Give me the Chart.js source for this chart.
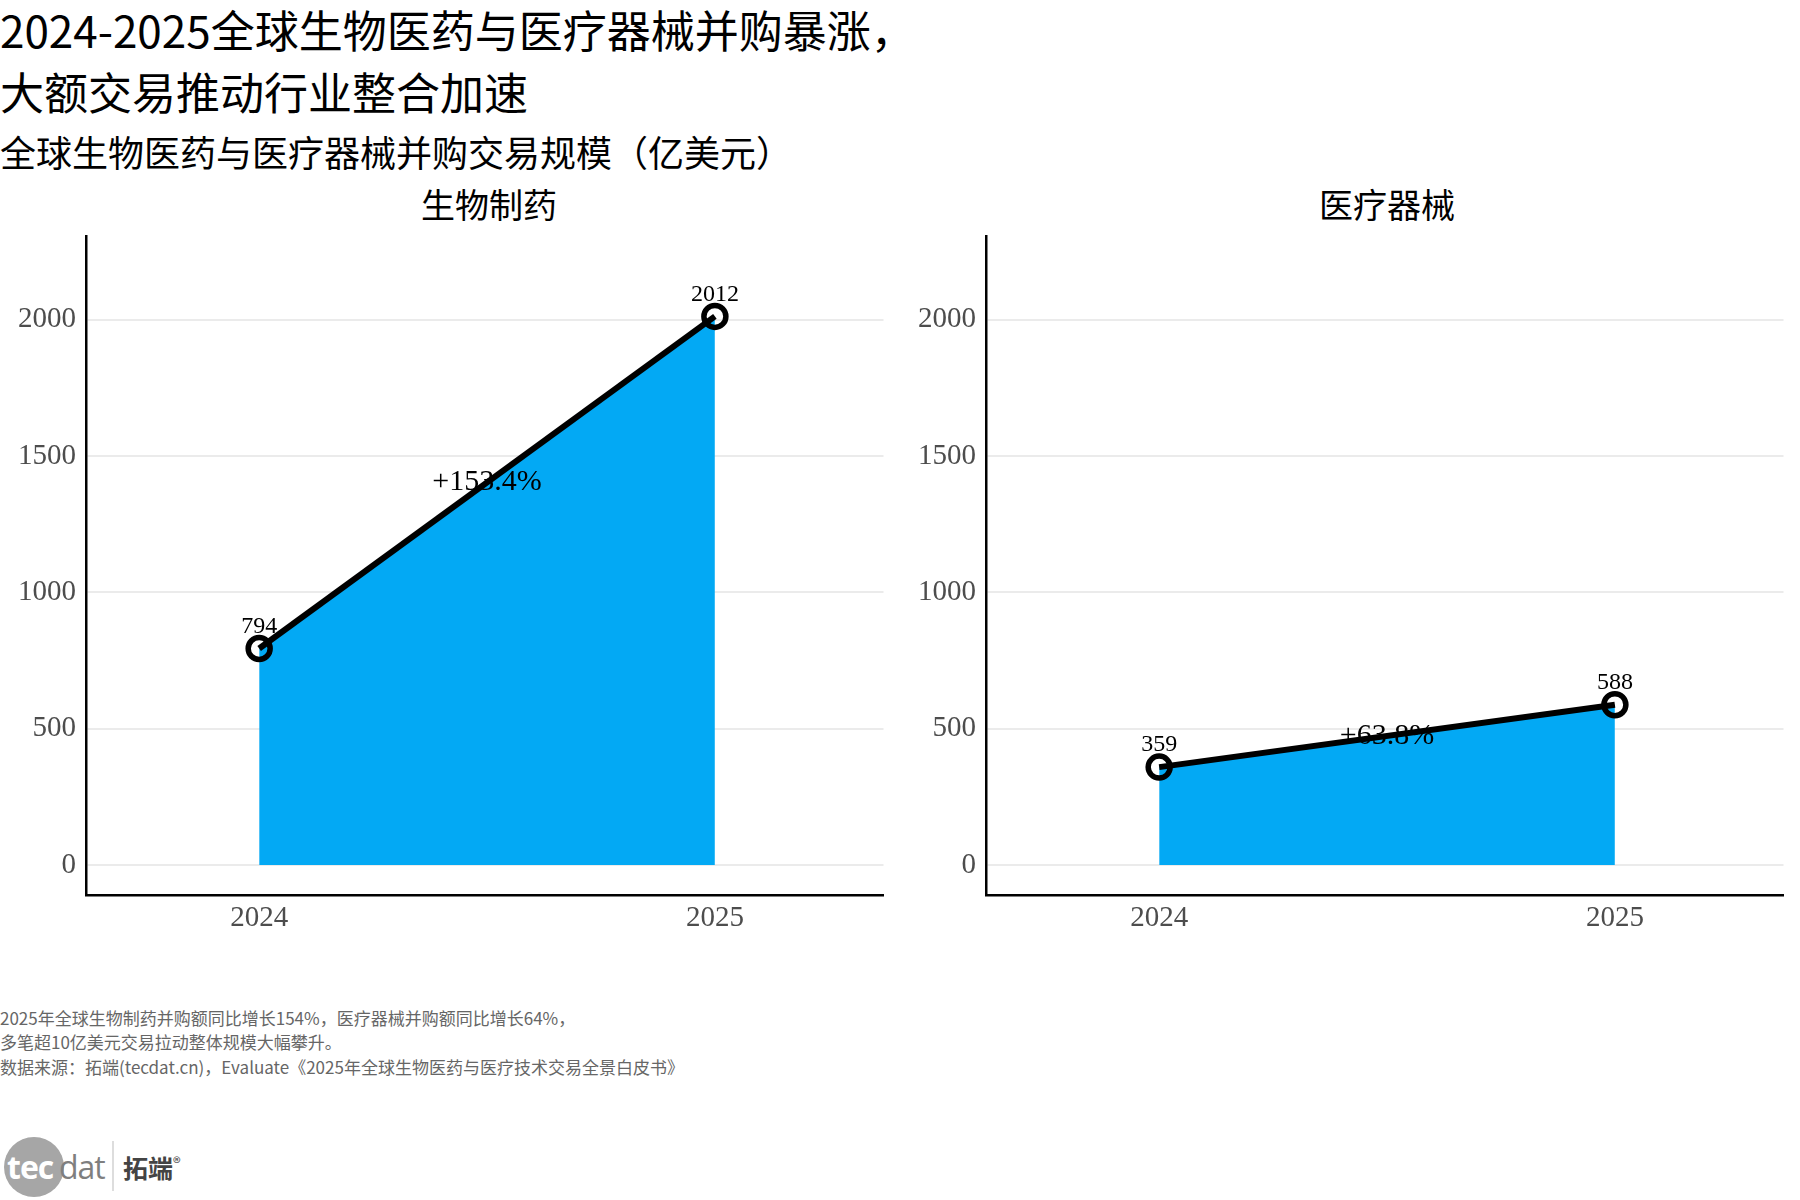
<!doctype html>
<html lang="zh">
<head>
<meta charset="utf-8">
<title>2024-2025全球生物医药与医疗器械并购</title>
<script src="https://cdn.jsdelivr.net/npm/chart.js@4.4.1/dist/chart.umd.min.js"></script>
<style>
    body { margin: 0; background: #fff; width: 1800px; height: 1200px; position: relative; overflow: hidden; font-family: "Noto Sans CJK SC", sans-serif; }
    .txt { position: absolute; left: 0; white-space: nowrap; color: #000; }
    .t1 { font-size: 44px; line-height: 44px; font-weight: 400; }
    .t2 { font-size: 36px; line-height: 36px; }
    .panel-title { position: absolute; font-size: 34px; line-height: 34px; text-align: center; width: 400px; }
    .box { position: absolute; top: 220px; width: 900px; height: 735px; }
    .note { position: absolute; left: 0; font-size: 17px; line-height: 17px; color: #666; white-space: nowrap; }
    .logo { position: absolute; left: 4px; top: 1137px; height: 62px; }
    .circle { position: absolute; left: 0; top: 0; width: 60px; height: 60px; border-radius: 50%; background: #a6a6a6; }
    .tec { position: absolute; left: 3px; top: 8px; font: bold 32px "Open Sans", sans-serif; color: #fff; letter-spacing: -1px; }
    .dat { position: absolute; left: 55px; top: 8px; font: 32px "Open Sans", sans-serif; color: #7f7f7f; letter-spacing: -1px; }
    .sep { position: absolute; left: 108px; top: 4px; width: 2px; height: 50px; background: #ddd; }
    .brand { position: absolute; left: 119px; top: 12px; font: bold 25px "Noto Sans CJK SC"; color: #444; white-space: nowrap; }
</style>
</head>
<body>
<div class="txt t1" style="top:7px">2024-2025全球生物医药与医疗器械并购暴涨，</div>
<div class="txt t1" style="top:69px">大额交易推动行业整合加速</div>
<div class="txt t2" style="top:133px">全球生物医药与医疗器械并购交易规模（亿美元）</div>

<div class="panel-title" style="left:289px; top:187px">生物制药</div>
<div class="panel-title" style="left:1187px; top:187px">医疗器械</div>

<div class="box" style="left:0"><canvas id="bio"></canvas></div>
<div class="box" style="left:900px"><canvas id="dev"></canvas></div>

<div class="note" style="top:1009px">2025年全球生物制药并购额同比增长154%，医疗器械并购额同比增长64%，</div>
<div class="note" style="top:1033px">多笔超10亿美元交易拉动整体规模大幅攀升。</div>
<div class="note" style="top:1058px">数据来源：拓端(tecdat.cn)，Evaluate《2025年全球生物医药与医疗技术交易全景白皮书》</div>

<div class="logo">
    <div class="circle"></div>
    <div class="tec">tec</div>
    <div class="dat">dat</div>
    <div class="sep"></div>
    <div class="brand">拓端<sup style="font-size:16px;font-weight:normal">®</sup></div>
</div>

<script>
    // data
    var years = [2024, 2025];
    var bioValues = [794, 2012];
    var devValues = [359, 588];
    var yTicks = [0, 500, 1000, 1500, 2000];

    var serif = "'Liberation Serif', 'Noto Sans CJK SC', serif";

    // labels: values above points, growth % at the middle of the line
    var labelPlugin = {
        id: 'labels',
        beforeDatasetsDraw: function(chart) {
            var ctx = chart.ctx;
            var vals = chart.data.datasets[0].data;
            var xs = chart.scales.x, ys = chart.scales.y;
            var x = (xs.getPixelForValue(vals[0].x) + xs.getPixelForValue(vals[1].x)) / 2;
            var y = (ys.getPixelForValue(vals[0].y) + ys.getPixelForValue(vals[1].y)) / 2;
            var pct = ((vals[1].y / vals[0].y - 1) * 100).toFixed(1);
            ctx.save();
            ctx.font = "30px " + serif;
            ctx.fillStyle = "#000";
            ctx.textAlign = "center";
            ctx.textBaseline = "middle";
            ctx.fillText("+" + pct + "%", x, y);
            ctx.restore();
        },
        afterDatasetsDraw: function(chart) {
            var ctx = chart.ctx;
            var meta = chart.getDatasetMeta(0);
            ctx.save();
            ctx.font = "24px " + serif;
            ctx.fillStyle = "#000";
            ctx.textAlign = "center";
            ctx.textBaseline = "middle";
            meta.data.forEach(function(pt, i) {
                ctx.fillText(String(chart.data.datasets[0].data[i].y), pt.x, pt.y - 22);
            });
            ctx.restore();
        }
    };

    function makeChart(id, values, yWidth, padRight) {
        var pts = [];
        for (var i = 0; i < years.length; i++) {
            pts.push({ x: years[i], y: values[i] });
        }
        return new Chart(document.getElementById(id), {
            type: 'line',
            data: {
                datasets: [{
                    data: pts,
                    borderColor: '#000',
                    borderWidth: 6,
                    backgroundColor: '#03A9F4',
                    fill: 'origin',
                    tension: 0,
                    pointRadius: 11,
                    pointBorderWidth: 5.5,
                    pointBorderColor: '#000',
                    pointBackgroundColor: 'rgba(0,0,0,0)'
                }]
            },
            plugins: [labelPlugin],
            options: {
                responsive: true,
                maintainAspectRatio: false,
                animation: false,
                layout: { padding: { left: 0, top: 13, right: padRight, bottom: 0 } },
                plugins: {
                    legend: { display: false },
                    tooltip: { enabled: false },
                    filler: { drawTime: 'beforeDatasetsDraw' }
                },
                scales: {
                    x: {
                        type: 'linear',
                        min: 2023.62,
                        max: 2025.37,
                        afterBuildTicks: function(scale) {
                            scale.ticks = years.map(function(v) { return { value: v }; });
                        },
                        afterFit: function(scale) {
                            scale.height = 60;
                            scale.paddingLeft = 0;
                            scale.paddingRight = 0;
                        },
                        ticks: {
                            callback: function(v) { return String(v); },
                            font: { family: serif, size: 29 },
                            color: '#4D4D4D',
                            padding: 6,
                            maxRotation: 0
                        },
                        grid: { display: false, drawTicks: false },
                        border: { display: true, color: '#000', width: 2.5 }
                    },
                    y: {
                        min: -110,
                        max: 2305,
                        afterBuildTicks: function(scale) {
                            scale.ticks = yTicks.map(function(v) { return { value: v }; });
                        },
                        afterFit: function(scale) {
                            scale.width = yWidth;
                            scale.paddingTop = 0;
                            scale.paddingBottom = 0;
                        },
                        ticks: {
                            callback: function(v) { return String(v); },
                            font: { family: serif, size: 29 },
                            color: '#4D4D4D',
                            padding: 10
                        },
                        grid: { color: '#EBEBEB', lineWidth: 2, drawTicks: false },
                        border: { display: true, color: '#000', width: 2.5 }
                    }
                }
            }
        });
    }

    makeChart('bio', bioValues, 86, 9);
    makeChart('dev', devValues, 86, 13);
</script>
</body>
</html>
